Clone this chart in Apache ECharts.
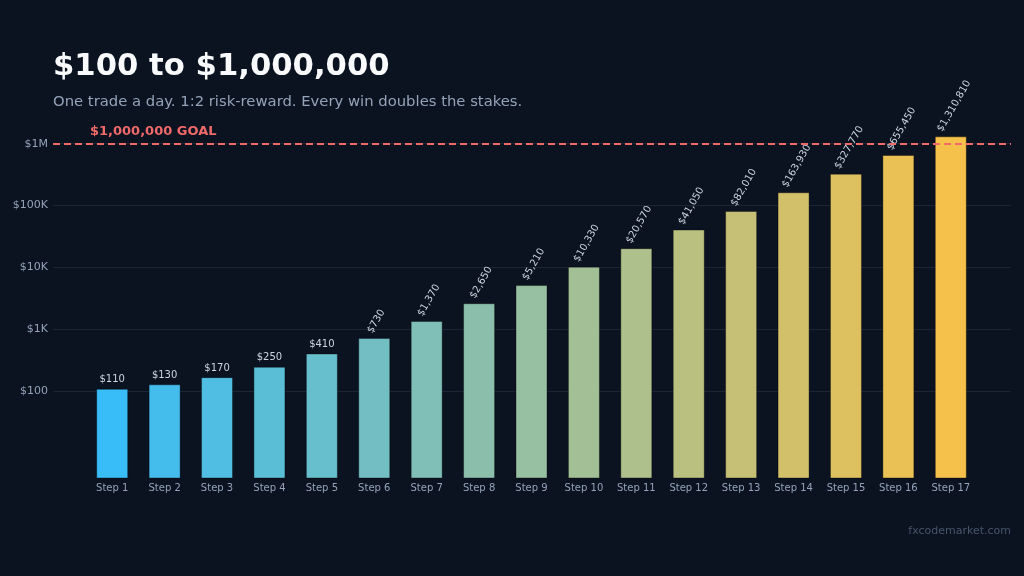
<!DOCTYPE html>
<html>
<head>
<meta charset="utf-8">
<script src="https://cdn.jsdelivr.net/npm/echarts@6/dist/echarts.min.js"></script>
<style>
html,body{margin:0;padding:0;background:#0b1220;}
#chart{width:1024px;height:576px;}
</style>
</head>
<body>
<div id="chart"></div>
<script>
// ---- data ----
const categories = ['Step 1','Step 2','Step 3','Step 4','Step 5','Step 6','Step 7','Step 8','Step 9','Step 10','Step 11','Step 12','Step 13','Step 14','Step 15','Step 16','Step 17'];
const values = [110, 130, 170, 250, 410, 730, 1370, 2650, 5210, 10330, 20570, 41050, 82010, 163930, 327770, 655450, 1310810];
const yTickValues = [100, 1000, 10000, 100000, 1000000];
const yTickLabels = ['$100', '$1K', '$10K', '$100K', '$1M'];
const goalValue = 1000000;
const goalLabel = '$1,000,000 GOAL';
const titleText = '$100 to $1,000,000';
const subtitleText = 'One trade a day. 1:2 risk-reward. Every win doubles the stakes.';
const watermarkText = 'fxcodemarket.com';

// ---- style ----
const FONT = 'DejaVu Sans';
const startRGB = [56, 189, 248];
const endRGB = [245, 193, 74];
function barColor(i, n) {
  const t = n > 1 ? i / (n - 1) : 0;
  const c = startRGB.map((s, k) => Math.round(s + (endRGB[k] - s) * t));
  return 'rgb(' + c.join(',') + ')';
}
function money(v) { return '$' + v.toLocaleString('en-US'); }

const barData = values.map((v, i) => {
  const rotated = i >= 5;
  const s = (money(v).length - 4) * 1.1; // leftward screen shift for longer rotated labels
  return {
    value: v,
    itemStyle: { color: barColor(i, values.length) },
    label: rotated ? {
      rotate: 60, align: 'left', verticalAlign: 'bottom', distance: 3,
      offset: [-0.5 * s, -0.866 * s]
    } : {
      rotate: 0, align: 'center', verticalAlign: 'bottom', distance: 4
    }
  };
});

const chart = echarts.init(document.getElementById('chart'), null, { renderer: 'canvas' });
chart.setOption({
  backgroundColor: '#0b1220',
  animation: false,
  textStyle: { fontFamily: FONT },
  title: [
    { text: titleText, left: 53, top: 52, padding: 0,
      textStyle: { color: '#f8fafc', fontSize: 30.7, fontWeight: 'bold', fontFamily: FONT } },
    { text: subtitleText, left: 53, top: 95, padding: 0,
      textStyle: { color: '#94a3b8', fontSize: 14.8, fontWeight: 'normal', fontFamily: FONT } },
    { text: watermarkText, right: 13, top: 526, padding: 0,
      textStyle: { color: '#475569', fontSize: 11, fontWeight: 'normal', fontFamily: FONT } }
  ],
  grid: [
    { left: 53, right: 13, top: 125, bottom: 98, containLabel: false },
    { left: 86, right: 47, top: 125, bottom: 98, containLabel: false }
  ],
  xAxis: [
    { type: 'value', gridIndex: 0, min: 0, max: 1, show: false },
    { type: 'category', gridIndex: 1, data: categories,
      axisLine: { show: false }, axisTick: { show: false }, splitLine: { show: false },
      axisLabel: { color: '#94a3b8', fontSize: 10, margin: 5, interval: 0, fontFamily: FONT } }
  ],
  yAxis: [
    { type: 'log', logBase: 10, gridIndex: 0, min: 4, max: 2000000,
      axisLine: { show: false }, axisTick: { show: false },
      axisLabel: {
        color: '#94a3b8', fontSize: 11, margin: 5, fontFamily: FONT,
        formatter: function (v) {
          for (let k = 0; k < yTickValues.length; k++) {
            if (Math.abs(v - yTickValues[k]) / yTickValues[k] < 1e-6) return yTickLabels[k];
          }
          return '';
        }
      },
      splitLine: { show: true, showMinLine: false, showMaxLine: false,
        lineStyle: { color: ['rgba(0,0,0,0)', '#1b2535', '#1b2535', '#1b2535', '#1b2535', '#1b2535'], width: 1 } }
    },
    { type: 'log', logBase: 10, gridIndex: 1, min: 4, max: 2000000, show: false,
      splitLine: { show: false } }
  ],
  series: [
    {
      type: 'line', xAxisIndex: 0, yAxisIndex: 0, data: [], silent: true,
      markLine: {
        silent: true, symbol: ['none', 'none'],
        data: [{ yAxis: goalValue }],
        lineStyle: { color: '#f06a6a', type: [7, 4], width: 2 },
        label: { show: true, position: 'insideStartTop', formatter: goalLabel, distance: [37, 6],
          color: '#f06a6a', fontWeight: 'bold', fontSize: 13, fontFamily: FONT }
      }
    },
    {
      type: 'bar', xAxisIndex: 1, yAxisIndex: 1, barWidth: 32, clip: true,
      data: barData,
      itemStyle: { borderColor: 'rgba(0,0,0,0.35)', borderWidth: 1 },
      label: {
        show: true, position: 'top', color: '#cbd5e1', fontSize: 10, fontFamily: FONT,
        formatter: function (p) { return money(p.value); }
      }
    }
  ]
});
</script>
</body>
</html>
